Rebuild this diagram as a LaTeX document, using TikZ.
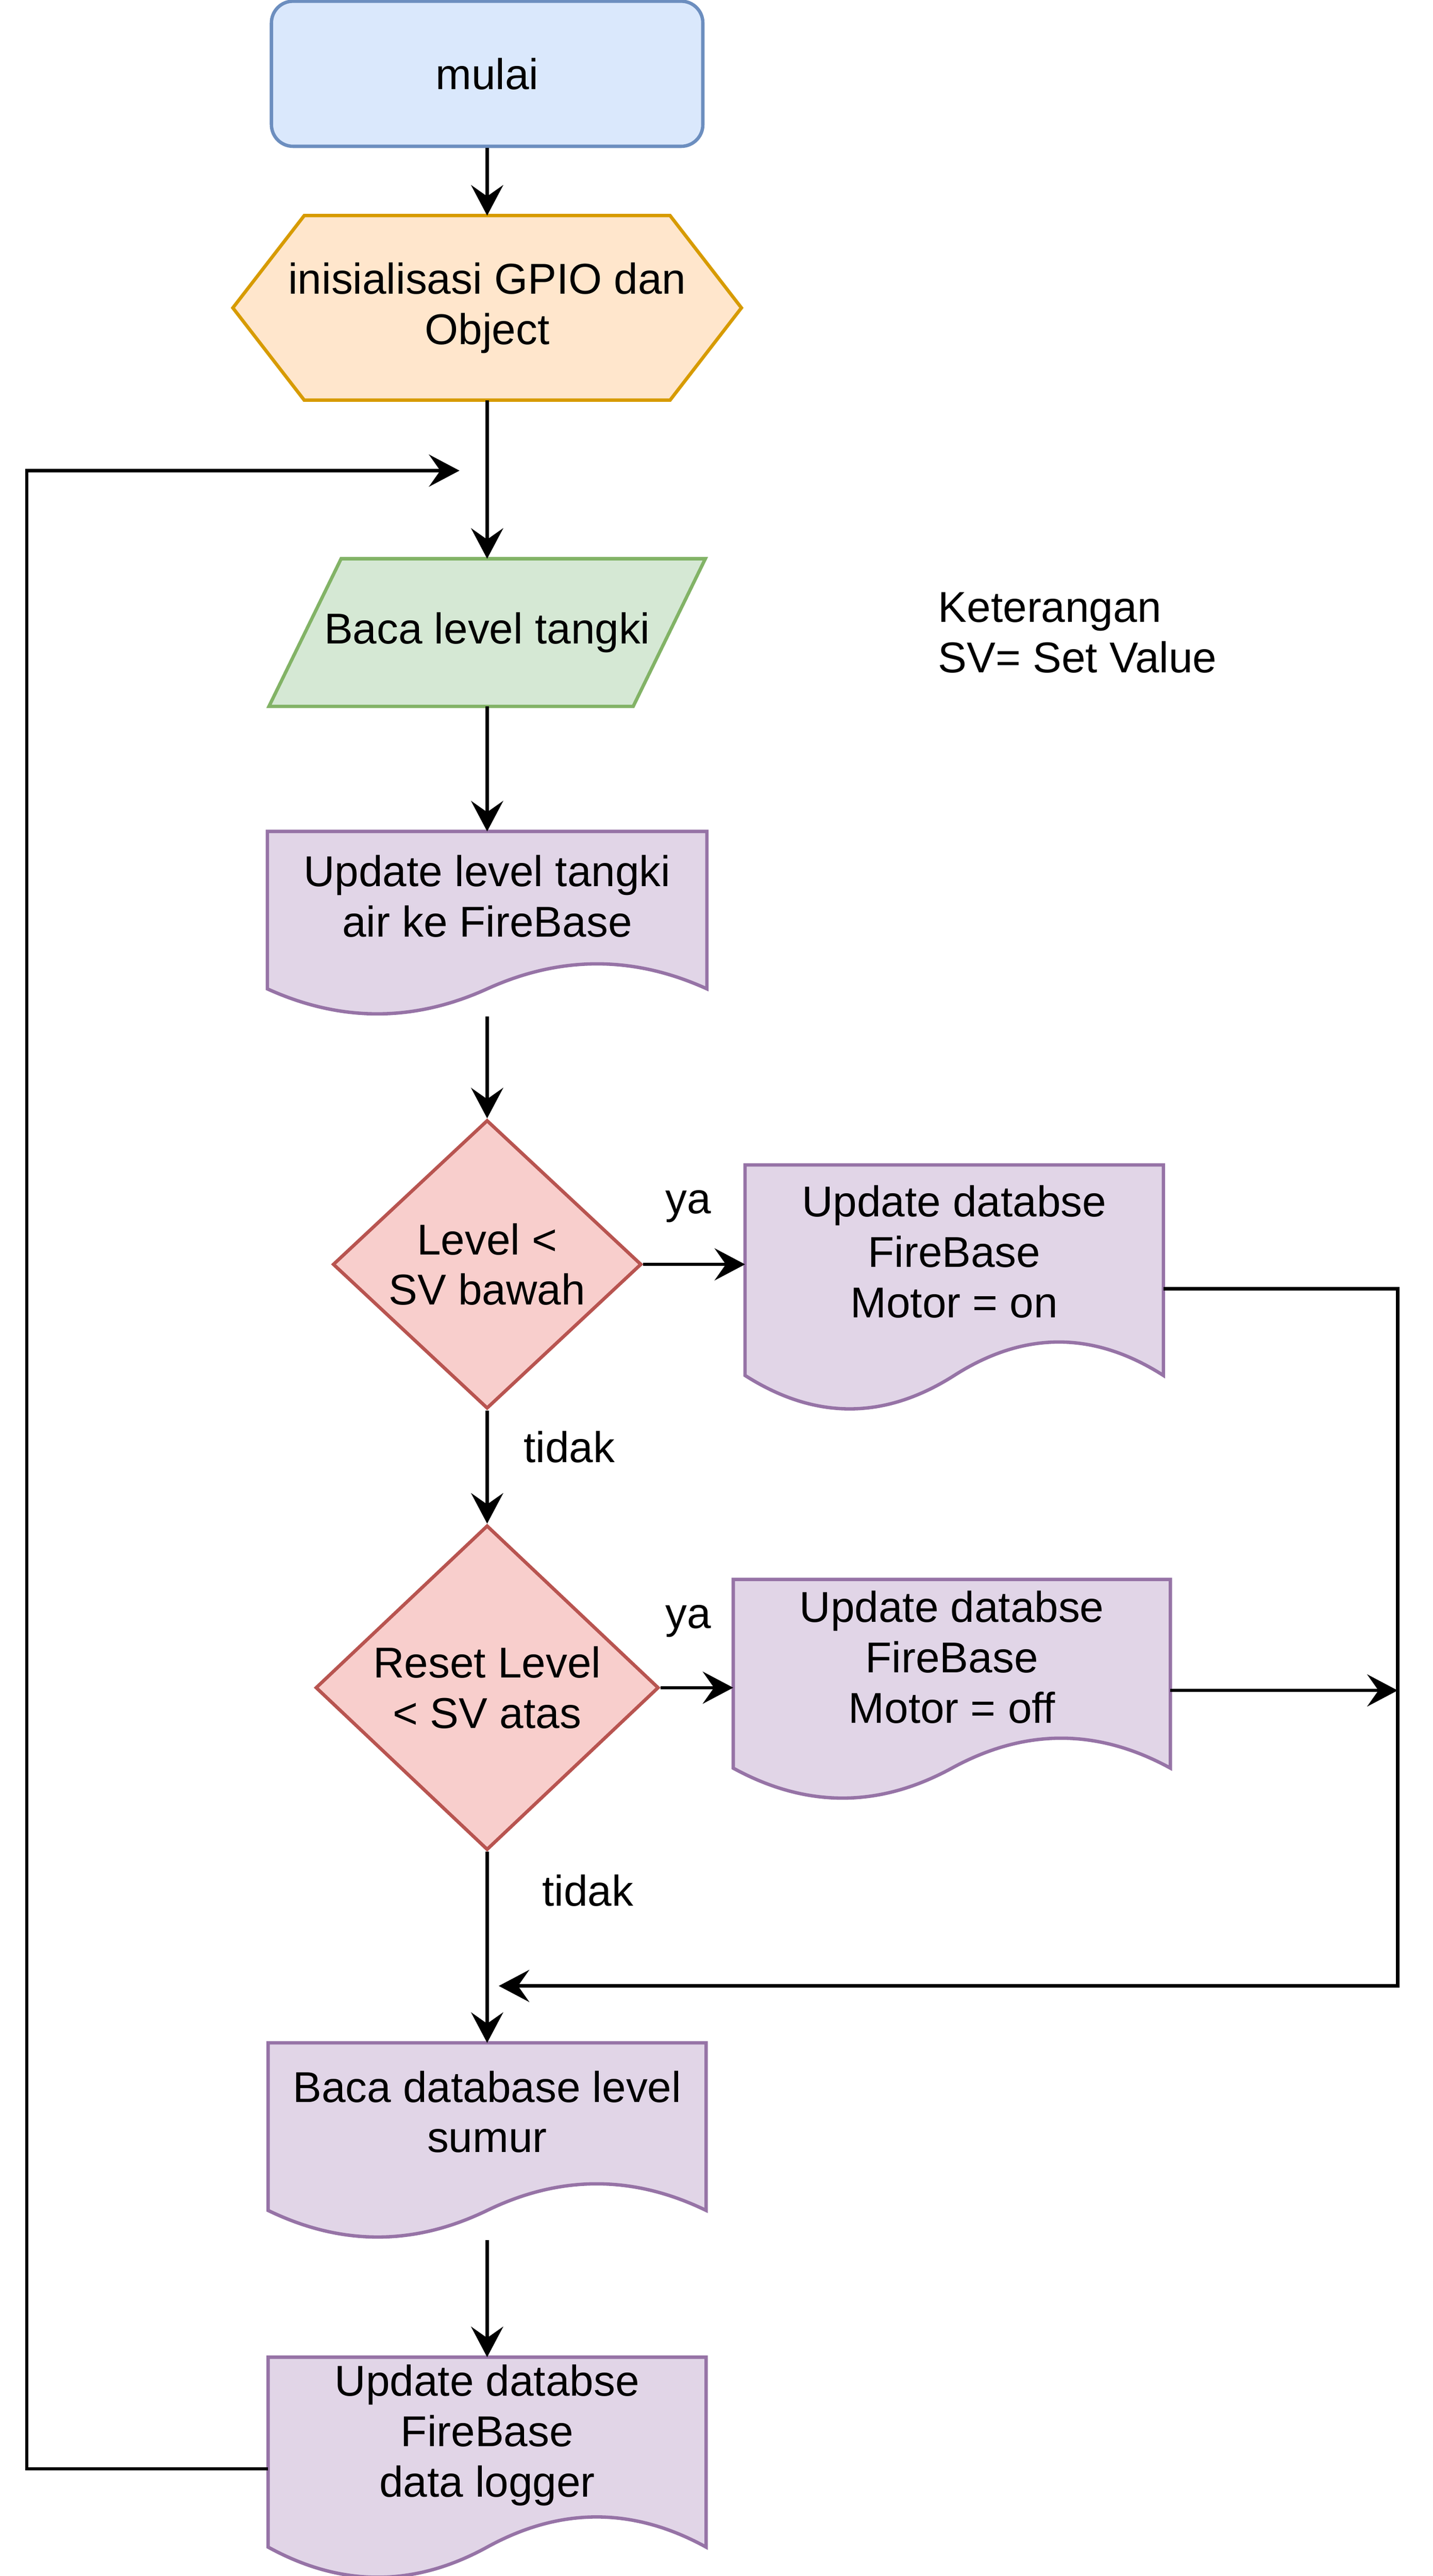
\documentclass[tikz,border=0pt]{standalone}
\usepackage{fontspec}
\setmainfont{Liberation Sans}
\usepackage{tikz}
\usetikzlibrary{calc,arrows.meta,shapes.geometric,positioning,backgrounds}
\definecolor{startfill}{HTML}{DAE8FC}
\definecolor{startline}{HTML}{6C8EBF}
\definecolor{prepfill}{HTML}{FFE6CC}
\definecolor{prepline}{HTML}{D79B00}
\definecolor{iofill}{HTML}{D5E8D4}
\definecolor{ioline}{HTML}{82B366}
\definecolor{docfill}{HTML}{E1D5E7}
\definecolor{docline}{HTML}{9673A6}
\definecolor{decfill}{HTML}{F8CECC}
\definecolor{decline}{HTML}{B85450}
\tikzset{
    startbox/.style={
    rectangle,rounded corners=0.27cm,draw=startline,fill=startfill,minimum width=5.38cm,minimum height=1.81cm
    },
    textarea/.style={
    rectangle,inner sep=0pt,align=center
    },
    decision/.style={
    diamond,draw=decline,fill=decfill,inner sep=0pt,align=center
    },
    prepshape/.style={
    draw=prepline,fill=prepfill,line width=1.2pt
    },
    ioshape/.style={
    draw=ioline,fill=iofill,line width=1.2pt
    },
    docshape/.style={
    draw=docline,fill=docfill,line width=1.2pt
    },
    lbl/.style={
    inner sep=0pt
    },
    flow/.style={
    ->,draw=black
    },
}

\begin{document}
\begin{tikzpicture}[line width=1.2pt, >={Stealth[length=3.8mm,width=4mm,inset=1.4mm]}, font=\fontsize{15.3}{17.9}\selectfont]
   \useasboundingbox (0,0) rectangle (17.865,-32.13);
   \node[startbox] (mulai) at (6.075,-0.92) {mulai};
   \node[textarea,minimum width=6.3cm,minimum height=2.26cm] (init) at (6.075,-3.84) {inisialisasi GPIO dan\\Object};
   \node[textarea,minimum width=5.4cm,minimum height=1.8cm] (baca) at (6.075,-7.89) {Baca level tangki};
   \node[textarea,minimum width=5.44cm,minimum height=1.575cm,anchor=north] (upd) at (6.075,-10.37) {Update level tangki\\air ke FireBase};
   \node[decision,minimum width=3.85cm,minimum height=3.6cm] (cek1) at (6.075,-15.77) {Level <\\SV bawah};
   \node[textarea,minimum width=5.175cm,minimum height=2.12cm,anchor=north] (motoron) at (11.9,-14.53) {Update databse\\FireBase\\Motor = on};
   \node[decision,minimum width=4.28cm,minimum height=4.05cm] (cek2) at (6.075,-21.05) {Reset Level\\< SV atas};
   \node[textarea,minimum width=5.41cm,minimum height=1.896cm,anchor=north] (motoroff) at (11.87,-19.70) {Update databse\\FireBase\\Motor = off};
   \node[textarea,minimum width=5.42cm,minimum height=1.679cm,anchor=north] (sumur) at (6.075,-25.48) {Baca database level\\sumur};
   \node[textarea,minimum width=5.42cm,minimum height=1.909cm,anchor=north] (logger) at (6.075,-29.40) {Update databse\\FireBase\\data logger};
   \node[lbl,anchor=west,align=left] (ket) at (11.68,-7.89) {Keterangan\\SV= Set Value};
   \node[lbl] (ya1) at (8.585,-15.05) {ya};
   \node[lbl] (ya2) at (8.585,-20.22) {ya};
   \node[lbl] (tidak1) at (7.10,-18.05) {tidak};
   \node[lbl] (tidak2) at (7.33,-23.58) {tidak};
   \coordinate (back) at (5.73,-5.87);
   \coordinate (backcorner) at (0.335,-5.87);
   \coordinate (ret) at (6.22,-24.77);
   \coordinate (retcorner) at (17.43,-24.77);

   % outlines behind the texts
   \begin{scope}[on background layer]
   \draw[prepshape] (init.west) -- ($(init.north west)+(0.89,0)$) -- ($(init.north east)+(-0.89,0)$) -- (init.east)
       -- ($(init.south east)+(-0.89,0)$) -- ($(init.south west)+(0.89,0)$) -- cycle;
   \draw[ioshape] ($(baca.north west)+(0.9,0)$) -- (baca.north east) -- ($(baca.south east)+(-0.9,0)$) -- (baca.south west) -- cycle;
   \foreach \nm in {upd,motoron,motoroff,sumur,logger}
     \draw[docshape] let \p1=(\nm.south west), \p2=(\nm.north east), \n1={\x2-\x1}, \n2={(\y2-\y1)/0.7} in
       (\x1,\y2) -- (\x2,\y2) -- (\x2,\y2-0.85*\n2)
       .. controls (\x1+0.833*\n1,\y2-0.67*\n2) and (\x1+0.667*\n1,\y2-0.67*\n2) .. (\x1+0.5*\n1,\y2-0.85*\n2)
       .. controls (\x1+0.333*\n1,\y2-1.03*\n2) and (\x1+0.167*\n1,\y2-1.03*\n2) .. (\x1,\y2-0.85*\n2) -- cycle
       (\x1,\y2-0.5*\n2) coordinate (\nm-w)
       (\x2,\y2-0.5*\n2) coordinate (\nm-e)
       (\x1+0.5*\n1,\y2-\n2) coordinate (\nm-s);
   \end{scope}

   \draw[flow] (mulai) -- (init);
   \draw[flow] (init) -- (baca);
   \draw[flow] (baca) -- (upd);
   \draw[flow] (upd-s) -- (cek1);
   \draw[flow] (cek1) -- (cek1 -| motoron.west);
   \draw[flow] (cek1) -- (cek2);
   \draw[flow] (cek2) -- (cek2 -| motoroff.west);
   \draw[flow] (cek2) -- (sumur);
   \draw[flow] (sumur-s) -- (logger);
   \draw[flow] (motoron-e) -| (retcorner) -- (ret);
   \draw[flow] (motoroff-e) -- (motoroff-e -| retcorner);
   \draw[flow] (logger-w) -| (backcorner) -- (back);
\end{tikzpicture}
\end{document}
